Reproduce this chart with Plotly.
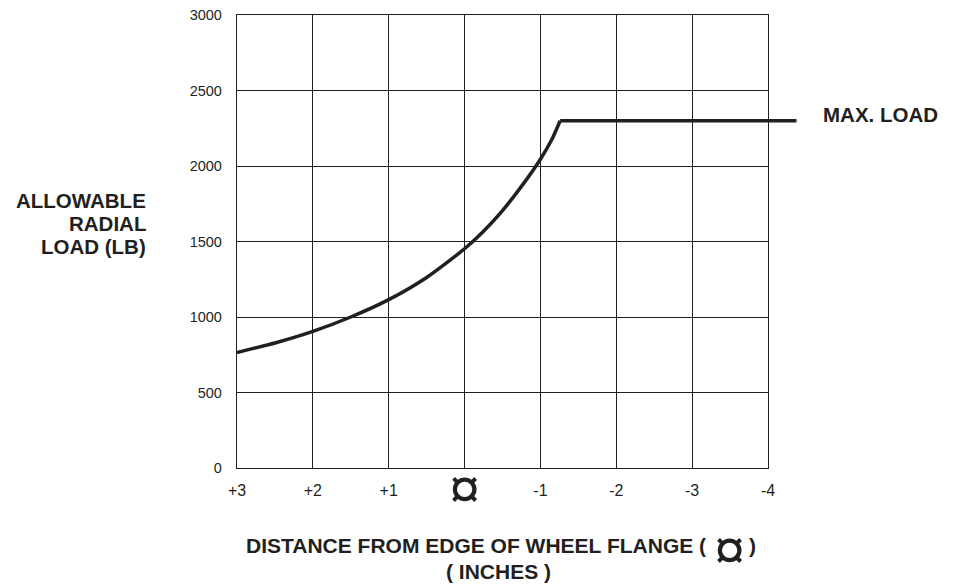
import plotly.graph_objects as go

# ---- data ----
curve_x = [3, 2.5, 2, 1.5, 1, 0.5, 0, -0.25, -0.5, -0.75, -1, -1.15, -1.26]
curve_y = [765, 828, 905, 1000, 1115, 1262, 1452, 1568, 1705, 1865, 2045, 2175, 2300]
max_load = 2300
max_x = [-1.26, -4]
max_y = [max_load, max_load]

x_tickvals = [3, 2, 1, 0, -1, -2, -3, -4]
x_ticktext = ["+3", "+2", "+1", "", "-1", "-2", "-3", "-4"]
y_tickvals = [0, 500, 1000, 1500, 2000, 2500, 3000]
y_ticktext = ["0", "500", "1000", "1500", "2000", "2500", "3000"]
center_symbol = "\u00a4"

INK = "#231f20"
FONT = "Liberation Sans, Arial, Helvetica, sans-serif"

fig = go.Figure()
fig.add_trace(go.Scatter(x=curve_x, y=curve_y, mode="lines",
                         line=dict(color=INK, width=3.5, shape="spline", smoothing=0.6),
                         hoverinfo="skip", showlegend=False))
fig.add_trace(go.Scatter(x=max_x, y=max_y, mode="lines",
                         line=dict(color=INK, width=3.5),
                         hoverinfo="skip", showlegend=False))

axis_common = dict(showgrid=True, gridcolor=INK, gridwidth=1.3, showline=True,
                   linecolor=INK, linewidth=1.3, mirror=True, zeroline=False, ticks="",
                   ticklabeloverflow="allow", automargin=False)

fig.update_xaxes(range=[3, -4], tickvals=x_tickvals, ticktext=x_ticktext,
                 ticklabelstandoff=8, tickfont=dict(family=FONT, size=16, color=INK),
                 **axis_common)
fig.update_yaxes(range=[0, 3000], tickvals=y_tickvals, ticktext=y_ticktext,
                 ticklabelstandoff=11, tickfont=dict(family=FONT, size=14.5, color=INK),
                 **axis_common)

TF = dict(family=FONT, size=20.5, color=INK)
SYM = dict(family=FONT, size=56, color=INK)
anns = []
# centre symbol under x=0 tick
anns.append(dict(x=0, y=0, xref="x", yref="y", text=center_symbol, showarrow=False,
                 yanchor="middle", xanchor="center", yshift=-19, font=SYM))
# max load extension beyond plot
anns.append(dict(x=max_x[-1], y=max_load, xref="x", yref="y", text="", showarrow=True,
                 arrowhead=0, arrowwidth=3.5, arrowcolor=INK, ax=30, ay=0,
                 axref="pixel", ayref="pixel"))
anns.append(dict(x=max_x[-1], y=max_load, xref="x", yref="y", text="<b>MAX. LOAD</b>",
                 showarrow=False, xanchor="left", yanchor="middle", xshift=53, yshift=6,
                 font=TF))
# y title lines
ymid = 0.540
for txt, yp in [("ALLOWABLE", ymid + 0.05), ("RADIAL", ymid), ("LOAD (LB)", ymid - 0.05)]:
    anns.append(dict(x=-0.168, y=yp, xref="paper", yref="paper", text=f"<b>{txt}</b>",
                     showarrow=False, xanchor="right", yanchor="middle", font=TF))
# x title, line 1 (symbol drawn separately so it can be larger)
y1 = -0.170
anns.append(dict(x=0.887, y=y1, xref="paper", yref="paper",
                 text="<b>DISTANCE FROM EDGE OF WHEEL FLANGE (</b>",
                 showarrow=False, xanchor="right", yanchor="middle",
                 font=dict(family=FONT, size=21, color=INK)))
anns.append(dict(x=0.928, y=y1, xref="paper", yref="paper", text=center_symbol,
                 showarrow=False, xanchor="center", yanchor="middle", yshift=-3,
                 font=SYM))
anns.append(dict(x=0.961, y=y1, xref="paper", yref="paper", text="<b>)</b>",
                 showarrow=False, xanchor="left", yanchor="middle",
                 font=dict(family=FONT, size=21, color=INK)))
# x title, line 2
anns.append(dict(x=0.493, y=-0.229, xref="paper", yref="paper", text="<b>( INCHES )</b>",
                 showarrow=False, xanchor="center", yanchor="middle",
                 font=dict(family=FONT, size=21, color=INK)))

fig.update_layout(width=956, height=584, margin=dict(l=229, r=196, t=7, b=124),
                  paper_bgcolor="white", plot_bgcolor="white", annotations=anns)

fig.write_html("out.html")
